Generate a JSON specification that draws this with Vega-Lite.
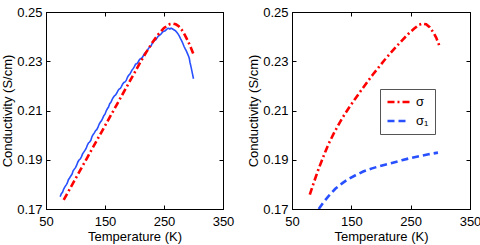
{
  "$schema": "https://vega.github.io/schema/vega-lite/v6.json",
  "background": "white",
  "padding": {"left": 1, "top": 5, "right": 0, "bottom": 0},
  "spacing": 12,
  "resolve": {"scale": {"color": "independent", "strokeDash": "independent"}, "legend": {"color": "independent", "strokeDash": "independent"}},
  "datasets": {
    "leftRed": [
      {"T": 80, "s": 0.1737}, {"T": 90, "s": 0.178}, {"T": 100, "s": 0.1823}, {"T": 110, "s": 0.1866},
      {"T": 120, "s": 0.1909}, {"T": 130, "s": 0.1952}, {"T": 140, "s": 0.1995}, {"T": 150, "s": 0.2038},
      {"T": 160, "s": 0.2081}, {"T": 170, "s": 0.2124}, {"T": 180, "s": 0.2167}, {"T": 190, "s": 0.221},
      {"T": 200, "s": 0.2253}, {"T": 210, "s": 0.2296}, {"T": 220, "s": 0.2337}, {"T": 230, "s": 0.2375},
      {"T": 240, "s": 0.2408}, {"T": 250, "s": 0.2435}, {"T": 260, "s": 0.2451}, {"T": 265, "s": 0.2453},
      {"T": 270, "s": 0.245}, {"T": 275, "s": 0.2442}, {"T": 280, "s": 0.2428}, {"T": 285, "s": 0.2408},
      {"T": 290, "s": 0.2385}, {"T": 295, "s": 0.2358}, {"T": 300, "s": 0.2328}
    ],
    "leftBlue": [
      {"T": 74, "s": 0.175}, {"T": 76, "s": 0.1762}, {"T": 78, "s": 0.1768}, {"T": 80, "s": 0.1781}, {"T": 82, "s": 0.179},
      {"T": 84, "s": 0.1797}, {"T": 86, "s": 0.1805}, {"T": 88, "s": 0.1819}, {"T": 90, "s": 0.1826}, {"T": 92, "s": 0.1834},
      {"T": 94, "s": 0.1841}, {"T": 96, "s": 0.1855}, {"T": 98, "s": 0.1862}, {"T": 100, "s": 0.1868}, {"T": 102, "s": 0.1878},
      {"T": 104, "s": 0.1891}, {"T": 106, "s": 0.1899}, {"T": 108, "s": 0.1903}, {"T": 110, "s": 0.1912}, {"T": 112, "s": 0.1924},
      {"T": 114, "s": 0.1931}, {"T": 116, "s": 0.1938}, {"T": 118, "s": 0.1946}, {"T": 120, "s": 0.1959}, {"T": 122, "s": 0.1968},
      {"T": 124, "s": 0.1972}, {"T": 126, "s": 0.1979}, {"T": 128, "s": 0.1994}, {"T": 130, "s": 0.2003}, {"T": 132, "s": 0.2009},
      {"T": 134, "s": 0.2018}, {"T": 136, "s": 0.2022}, {"T": 138, "s": 0.2031}, {"T": 140, "s": 0.2044}, {"T": 142, "s": 0.2052},
      {"T": 144, "s": 0.2058}, {"T": 146, "s": 0.2068}, {"T": 148, "s": 0.2079}, {"T": 150, "s": 0.2085}, {"T": 152, "s": 0.2098},
      {"T": 154, "s": 0.2107}, {"T": 156, "s": 0.2114}, {"T": 158, "s": 0.2128}, {"T": 160, "s": 0.2133}, {"T": 162, "s": 0.2144},
      {"T": 164, "s": 0.2153}, {"T": 166, "s": 0.216}, {"T": 168, "s": 0.2163}, {"T": 170, "s": 0.2171}, {"T": 172, "s": 0.2181},
      {"T": 174, "s": 0.2187}, {"T": 176, "s": 0.219}, {"T": 178, "s": 0.2198}, {"T": 180, "s": 0.2208}, {"T": 182, "s": 0.2214},
      {"T": 184, "s": 0.2216}, {"T": 186, "s": 0.2222}, {"T": 188, "s": 0.2235}, {"T": 190, "s": 0.2243}, {"T": 192, "s": 0.2247},
      {"T": 194, "s": 0.2256}, {"T": 196, "s": 0.2265}, {"T": 198, "s": 0.2271}, {"T": 200, "s": 0.2279}, {"T": 202, "s": 0.2289},
      {"T": 204, "s": 0.229}, {"T": 206, "s": 0.2296}, {"T": 208, "s": 0.2305}, {"T": 210, "s": 0.231}, {"T": 212, "s": 0.2312},
      {"T": 214, "s": 0.2318}, {"T": 216, "s": 0.2328}, {"T": 218, "s": 0.2334}, {"T": 220, "s": 0.2338}, {"T": 222, "s": 0.2345},
      {"T": 224, "s": 0.2353}, {"T": 226, "s": 0.2358}, {"T": 228, "s": 0.2362}, {"T": 230, "s": 0.2372}, {"T": 232, "s": 0.2379},
      {"T": 234, "s": 0.2385}, {"T": 236, "s": 0.2387}, {"T": 238, "s": 0.2394}, {"T": 240, "s": 0.2401}, {"T": 242, "s": 0.2405},
      {"T": 244, "s": 0.2408}, {"T": 246, "s": 0.2414}, {"T": 248, "s": 0.242}, {"T": 250, "s": 0.2422}, {"T": 252, "s": 0.2424},
      {"T": 254, "s": 0.2428}, {"T": 256, "s": 0.2433}, {"T": 258, "s": 0.2434}, {"T": 260, "s": 0.2431}, {"T": 262, "s": 0.2434},
      {"T": 264, "s": 0.2432}, {"T": 266, "s": 0.2429}, {"T": 268, "s": 0.2426}, {"T": 270, "s": 0.2422}, {"T": 272, "s": 0.2417},
      {"T": 274, "s": 0.241}, {"T": 276, "s": 0.2402}, {"T": 278, "s": 0.2392}, {"T": 280, "s": 0.2383}, {"T": 282, "s": 0.2372},
      {"T": 284, "s": 0.236}, {"T": 286, "s": 0.235}, {"T": 288, "s": 0.2341}, {"T": 290, "s": 0.233}, {"T": 292, "s": 0.2318},
      {"T": 293, "s": 0.231}, {"T": 294, "s": 0.2296}, {"T": 296, "s": 0.2275}, {"T": 298, "s": 0.2252}, {"T": 300, "s": 0.2229}
    ],
    "right": [
      {"T": 80, "s": 0.1758, "series": "σ"}, {"T": 85, "s": 0.1795, "series": "σ"}, {"T": 90, "s": 0.183, "series": "σ"},
      {"T": 95, "s": 0.1864, "series": "σ"}, {"T": 100, "s": 0.1895, "series": "σ"}, {"T": 106, "s": 0.1932, "series": "σ"},
      {"T": 112, "s": 0.1966, "series": "σ"}, {"T": 120, "s": 0.2005, "series": "σ"}, {"T": 128, "s": 0.2041, "series": "σ"},
      {"T": 136, "s": 0.2074, "series": "σ"}, {"T": 146, "s": 0.2111, "series": "σ"}, {"T": 156, "s": 0.2146, "series": "σ"},
      {"T": 166, "s": 0.218, "series": "σ"}, {"T": 176, "s": 0.2213, "series": "σ"}, {"T": 186, "s": 0.2245, "series": "σ"},
      {"T": 196, "s": 0.2275, "series": "σ"}, {"T": 206, "s": 0.2305, "series": "σ"}, {"T": 216, "s": 0.2333, "series": "σ"},
      {"T": 226, "s": 0.236, "series": "σ"}, {"T": 236, "s": 0.2386, "series": "σ"}, {"T": 246, "s": 0.2411, "series": "σ"},
      {"T": 256, "s": 0.2433, "series": "σ"}, {"T": 264, "s": 0.2448, "series": "σ"}, {"T": 270, "s": 0.2453, "series": "σ"},
      {"T": 276, "s": 0.245, "series": "σ"}, {"T": 282, "s": 0.2438, "series": "σ"}, {"T": 288, "s": 0.2418, "series": "σ"},
      {"T": 293, "s": 0.2396, "series": "σ"}, {"T": 298, "s": 0.2365, "series": "σ"},
      {"T": 95, "s": 0.17, "series": "σ₁"}, {"T": 105, "s": 0.1733, "series": "σ₁"}, {"T": 115, "s": 0.1762, "series": "σ₁"},
      {"T": 123, "s": 0.1782, "series": "σ₁"}, {"T": 135, "s": 0.1805, "series": "σ₁"}, {"T": 145, "s": 0.1822, "series": "σ₁"},
      {"T": 157, "s": 0.1837, "series": "σ₁"}, {"T": 170, "s": 0.1852, "series": "σ₁"}, {"T": 185, "s": 0.1865, "series": "σ₁"},
      {"T": 202, "s": 0.1877, "series": "σ₁"}, {"T": 220, "s": 0.1888, "series": "σ₁"}, {"T": 235, "s": 0.1898, "series": "σ₁"},
      {"T": 250, "s": 0.1907, "series": "σ₁"}, {"T": 265, "s": 0.1915, "series": "σ₁"}, {"T": 280, "s": 0.1922, "series": "σ₁"},
      {"T": 296, "s": 0.1929, "series": "σ₁"}
    ]
  },
  "hconcat": [
    {
      "width": 177,
      "height": 197,
      "resolve": {"axis": {"x": "independent", "y": "independent"}},
      "layer": [
        {
          "data": {"name": "leftBlue"},
          "mark": {"type": "line", "color": "#2850ff", "strokeWidth": 1.6, "clip": true},
          "encoding": {
            "x": {"field": "T", "type": "quantitative", "scale": {"domain": [50, 350], "nice": false},
                  "axis": {"orient": "bottom", "values": [50, 150, 250, 350], "title": "Temperature (K)"}},
            "y": {"field": "s", "type": "quantitative", "scale": {"domain": [0.17, 0.25], "nice": false, "zero": false},
                  "axis": {"orient": "left", "values": [0.17, 0.19, 0.21, 0.23, 0.25], "format": ".2f", "title": "Conductivity (S/cm)"}}
          }
        },
        {
          "data": {"name": "leftRed"},
          "mark": {"type": "line", "color": "#ff0000", "strokeWidth": 2.6, "strokeDash": [7, 3, 2, 3], "clip": true},
          "encoding": {
            "x": {"field": "T", "type": "quantitative", "axis": {"orient": "top", "values": [50, 150, 250, 350], "labels": false, "title": null}},
            "y": {"field": "s", "type": "quantitative", "axis": {"orient": "right", "values": [0.17, 0.19, 0.21, 0.23, 0.25], "labels": false, "title": null}}
          }
        }
      ]
    },
    {
      "width": 178,
      "height": 197,
      "resolve": {"axis": {"x": "independent", "y": "independent"}},
      "layer": [
        {
          "data": {"name": "right"},
          "mark": {"type": "line", "strokeWidth": 2.6, "clip": true},
          "encoding": {
            "x": {"field": "T", "type": "quantitative", "scale": {"domain": [50, 350], "nice": false},
                  "axis": {"orient": "bottom", "values": [50, 150, 250, 350], "title": "Temperature (K)"}},
            "y": {"field": "s", "type": "quantitative", "scale": {"domain": [0.17, 0.25], "nice": false, "zero": false},
                  "axis": {"orient": "left", "values": [0.17, 0.19, 0.21, 0.23, 0.25], "format": ".2f", "title": "Conductivity (S/cm)"}},
            "color": {"field": "series", "type": "nominal", "scale": {"domain": ["σ", "σ₁"], "range": ["#ff0000", "#2850ff"]},
                      "legend": {"orient": "none", "legendX": 88, "legendY": 77, "title": null, "fillColor": "white", "strokeColor": "#555555",
                                 "padding": 6, "symbolType": "M-1,0L3,0", "symbolSize": 121, "symbolStrokeWidth": 2.6,
                                 "labelFont": "Liberation Sans", "labelFontSize": 13, "labelColor": "black", "rowPadding": 5, "labelOffset": 16}},
            "strokeDash": {"field": "series", "type": "nominal", "scale": {"domain": ["σ", "σ₁"], "range": [[7, 3, 2, 3], [7, 4]]},
                           "legend": {"orient": "none", "legendX": 88, "legendY": 77, "title": null, "fillColor": "white", "strokeColor": "#555555",
                                 "padding": 6, "symbolType": "M-1,0L3,0", "symbolSize": 121, "symbolStrokeWidth": 2.6,
                                 "labelFont": "Liberation Sans", "labelFontSize": 13, "labelColor": "black", "rowPadding": 5, "labelOffset": 16}}
          }
        },
        {
          "data": {"name": "right"},
          "mark": {"type": "line", "opacity": 0},
          "encoding": {
            "x": {"field": "T", "type": "quantitative", "axis": {"orient": "top", "values": [50, 150, 250, 350], "labels": false, "title": null}},
            "y": {"field": "s", "type": "quantitative", "axis": {"orient": "right", "values": [0.17, 0.19, 0.21, 0.23, 0.25], "labels": false, "title": null}},
            "detail": {"field": "series"}
          }
        }
      ]
    }
  ],
  "config": {
    "view": {"stroke": "black", "strokeWidth": 1},
    "axis": {"grid": false, "tickSize": -4, "labelFlush": false, "domainColor": "black", "tickColor": "black",
             "labelFont": "Liberation Sans", "labelFontSize": 13, "labelColor": "black",
             "titleFont": "Liberation Sans", "titleFontSize": 13, "titleFontWeight": "normal", "titleColor": "black", "titlePadding": 2},
    "axisX": {"labelPadding": 10},
    "axisY": {"labelPadding": 8}
  }
}
